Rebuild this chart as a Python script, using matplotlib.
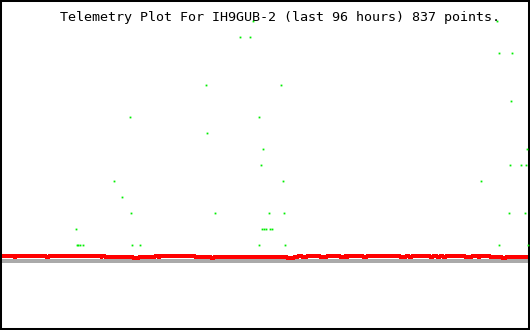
import numpy as np
import matplotlib
matplotlib.use("Agg")
import matplotlib.pyplot as plt

title = "Telemetry Plot For IH9GUB-2 (last 96 hours) 837 points."

# red channel: step values (hours, value)
red_hours = [0, 2.5, 2.9, 8.3, 8.9, 18.3, 18.5, 19.0, 24.1, 25.2, 28.1, 28.6, 29.0,
             35.3, 38.2, 38.8, 52.0, 53.3, 54.0, 54.7, 55.6, 58.0, 59.2, 61.6, 62.5,
             62.9, 63.0, 65.7, 66.5, 72.5, 73.5, 74.1, 74.6, 77.9, 78.4, 79.2, 79.7,
             80.2, 80.8, 84.2, 85.5, 86.6, 86.9, 88.8, 90.9, 91.7, 96]
red_vals = [0.33, 0.27, 0.33, 0.27, 0.33, 0.27, 0.33, 0.27, 0.21, 0.27, 0.33, 0.27, 0.33,
            0.27, 0.21, 0.27, 0.21, 0.27, 0.33, 0.27, 0.33, 0.27, 0.33, 0.27, 0.33,
            0.27, 0.33, 0.27, 0.33, 0.27, 0.33, 0.27, 0.33, 0.27, 0.33, 0.27, 0.33,
            0.27, 0.33, 0.27, 0.33, 0.27, 0.33, 0.27, 0.21, 0.27, 0.27]

# green channel: scattered samples (hours, level)
green_hours = [45.8, 90.0, 43.5, 45.3, 90.4, 92.7, 37.3, 50.9, 92.6, 23.5, 46.9,
               37.5, 47.6, 95.5, 47.3, 92.4, 94.4, 95.3, 20.6, 51.3, 87.1, 22.1,
               23.7, 38.9, 48.7, 51.4, 92.2, 95.1, 13.8, 47.5, 47.8, 48.2, 48.9, 49.3,
               13.9, 14.1, 14.5, 15.0, 23.9, 25.4, 46.9, 51.6, 90.4, 95.6]
green_vals = [15, 15, 14, 14, 13, 13, 11, 11, 10, 9, 9,
              8, 7, 7, 6, 6, 6, 6, 5, 5, 5, 4,
              3, 3, 3, 3, 3, 3, 2, 2, 2, 2, 2, 2,
              1, 1, 1, 1, 1, 1, 1, 1, 1, 1]

fig = plt.figure(figsize=(5.3, 3.3), dpi=100)
ax = fig.add_axes([0, 0, 1, 1])
ax.set_xlim(0, 96)
ax.set_ylim(-69 / 16, 261 / 16)

ax.axhline(0, color="#aaaaaa", lw=1.5, antialiased=False, zorder=1)
ax.plot(red_hours, red_vals, color="#ff0000", lw=1.7, drawstyle="steps-post",
        antialiased=False, zorder=2)
ax.plot(green_hours, green_vals, ls="none", marker="s", color="#00ee00",
        markersize=1.3, mew=0, antialiased=False, zorder=5)

ax.set_xticks([])
ax.set_yticks([])
for s in ax.spines.values():
    s.set_linewidth(2.9)
    s.set_color("black")

ax.text(60 / 530, 1 - 21.5 / 330, title, transform=fig.transFigure,
        family="DejaVu Sans Mono", fontsize=9.6,
        ha="left", va="baseline", color="black", zorder=3)

fig.savefig("out.png", dpi=100)
